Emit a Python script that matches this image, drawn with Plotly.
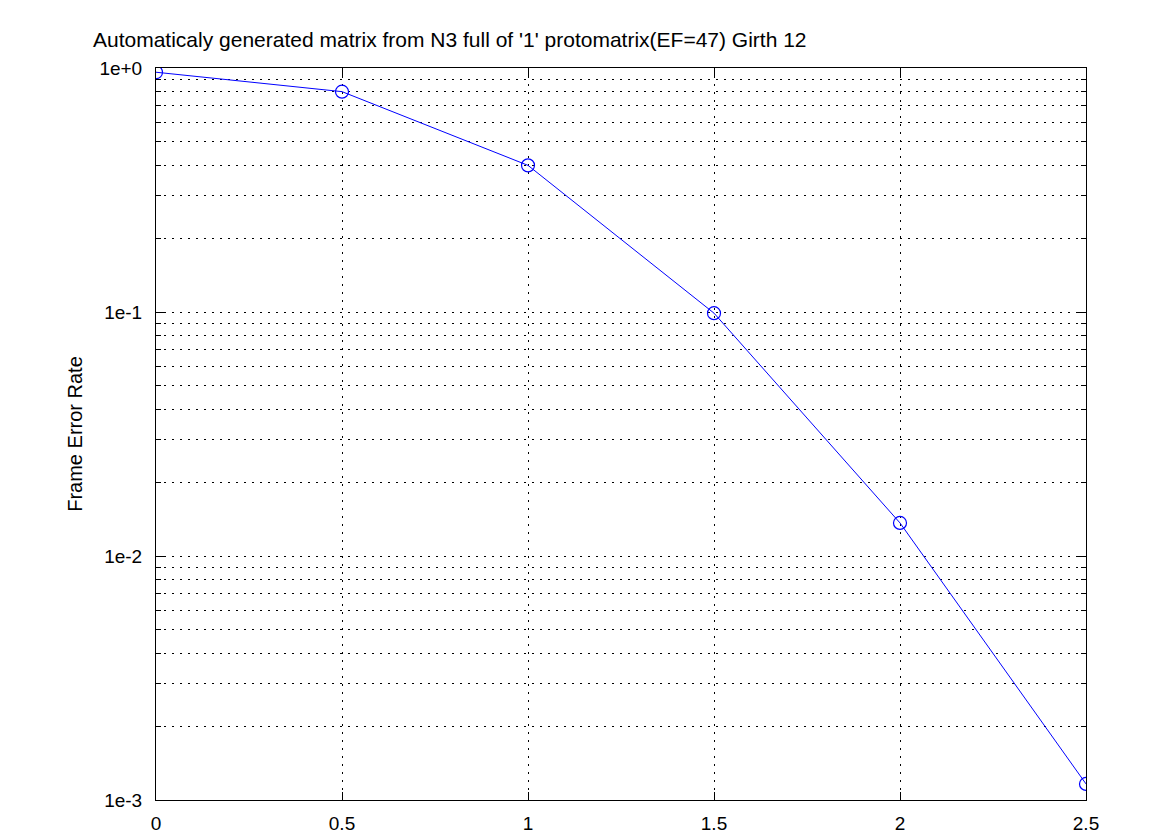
import plotly.graph_objects as go

snr = [0, 0.5, 1, 1.5, 2, 2.5]
fer = [0.961, 0.80, 0.399, 0.0989, 0.01366, 0.001164]

x_ticks = [0, 0.5, 1, 1.5, 2, 2.5]
x_tick_labels = ["0", "0.5", "1", "1.5", "2", "2.5"]
y_ticks = [1, 0.1, 0.01, 0.001]
y_tick_labels = ["1e+0", "1e-1", "1e-2", "1e-3"]
y_minor = [m * 10.0 ** e for e in (-3, -2, -1) for m in range(2, 10)]

title_text = "Automaticaly generated matrix from N3 full of '1' protomatrix(EF=47) Girth 12"

font = "Liberation Sans, Arial, Helvetica, sans-serif"
grid_dash = "2px,6px"

W, H = 1167, 827  # page has 8px body margin

fig = go.Figure()
fig.add_trace(go.Scatter(
    x=snr, y=fer, mode="lines+markers",
    line=dict(color="#0000ff", width=1),
    marker=dict(symbol="circle-open", size=13, color="#0000ff", line=dict(width=1.2, color="#0000ff")),
    showlegend=False,
))

fig.update_layout(
    width=W, height=H,
    margin=dict(l=148, r=89, t=60, b=35),
    paper_bgcolor="white", plot_bgcolor="white",
    font=dict(family=font, size=19, color="black"),
    title=dict(text=title_text, x=85 / W, xanchor="left", y=1 - 32 / H, yanchor="middle",
               font=dict(family=font, size=21, color="black")),
)
fig.update_xaxes(
    range=[0, 2.5], tickvals=x_ticks, ticktext=x_tick_labels,
    showline=True, linecolor="black", linewidth=1, mirror="ticks",
    ticks="inside", ticklen=8, tickcolor="black",
    showgrid=True, gridcolor="black", griddash=grid_dash, gridwidth=1,
    zeroline=False, tickfont=dict(size=19), automargin=False, ticklabelstandoff=6,
)
fig.update_yaxes(
    type="log", range=[-3, 0], tickvals=y_ticks, ticktext=y_tick_labels,
    showline=True, linecolor="black", linewidth=1, mirror="ticks",
    ticks="inside", ticklen=8, tickcolor="black",
    showgrid=True, gridcolor="black", griddash=grid_dash, gridwidth=1,
    zeroline=False, tickfont=dict(size=19), automargin=False, ticklabelstandoff=9,
    minor=dict(tickvals=y_minor, ticks="inside", ticklen=5, tickcolor="black",
               showgrid=True, gridcolor="black", griddash=grid_dash, gridwidth=1),
    title=dict(text="Frame Error Rate", font=dict(size=20), standoff=11),
)

fig.write_html("out.html")
